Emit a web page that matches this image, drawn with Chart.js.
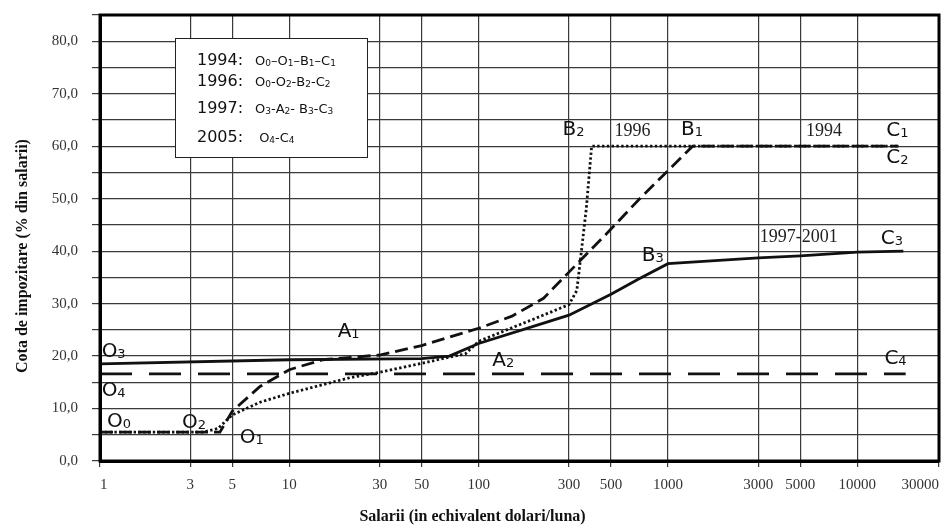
<!DOCTYPE html>
<html>
<head>
<meta charset="utf-8">
<script src="https://cdn.jsdelivr.net/npm/chart.js@4.4.1/dist/chart.umd.min.js"></script>
<style>
  html, body { margin: 0; padding: 0; background: #fff; }
  #wrap { width: 951px; height: 527px; }
</style>
</head>
<body>
<div id="wrap"><canvas id="chart" width="951" height="527"></canvas></div>
<script>
// salarii (dolari/luna) -> cota de impozitare (%)
const sal1994  = [1, 4.3, 5, 7, 10, 15, 30, 50, 100, 150, 220, 300, 500, 700, 1350, 16500];
const cota1994 = [5.5, 5.5, 9.5, 14.2, 17.4, 19.3, 20.2, 22, 25.3, 27.6, 31, 36, 44.2, 49.8, 60, 60];

const sal1996  = [1, 3.5, 4.2, 5, 7, 10, 21, 30, 50, 70, 85, 100, 150, 200, 300, 330, 345, 370, 395, 16500];
const cota1996 = [5.5, 5.5, 6.2, 8.8, 11.2, 12.9, 15.9, 16.9, 18.6, 19.8, 20.4, 22.8, 25.4, 27.2, 29.8, 32.5, 38.5, 48, 60, 60];

const sal1997  = [1, 10, 50, 70, 100, 200, 300, 500, 700, 1000, 3000, 5000, 10000, 17500];
const cota1997 = [18.5, 19.3, 19.5, 20, 22.4, 25.8, 27.8, 31.8, 34.7, 37.6, 38.7, 39.1, 39.8, 40];

const sal2005  = [1, 18000];
const cota2005 = [16.6, 16.6];

// ultima diviziune (30000) sta pe marginea din dreapta a graficului
const xMax = 27000;
const xTicks      = [1, 3, 5, 10, 30, 50, 100, 300, 500, 1000, 3000, 5000, 10000, xMax];
const xTickLabels = ['1', '3', '5', '10', '30', '50', '100', '300', '500', '1000', '3000', '5000', '10000', '30000'];

const xTitle = 'Salarii (in echivalent dolari/luna)';
const yTitle = 'Cota de impozitare (% din salarii)';

// etichete de puncte (litera_indice) si ani, in coordonate de date
const pointLabels = [
  ['O_0', 1.09, 6.5], ['O_2', 2.71, 6.3], ['O_1', 5.48, 3.4],
  ['O_3', 1.02, 19.9], ['O_4', 1.02, 12.3],
  ['A_1', 18, 23.6], ['A_2', 118, 18.2],
  ['B_2', 277, 62.1], ['B_1', 1170, 62.1], ['B_3', 726, 38.1],
  ['C_1', 14200, 61.9], ['C_2', 14200, 56.7], ['C_3', 13300, 41.4], ['C_4', 13900, 18.4]
];
const yearLabels = [['1996', 522, 61.9], ['1994', 5360, 61.9], ['1997-2001', 3050, 41.8]];

const legendRows = [
  ['1994:', 'O_0–O_1–B_1–C_1'],
  ['1996:', 'O_0-O_2-B_2-C_2'],
  ['1997:', 'O_3-A_2- B_3-C_3'],
  ['2005:', ' O_4-C_4']
];

const pts = (xs, ys) => xs.map((v, i) => ({ x: v, y: ys[i] }));

function drawSub(ctx, str, x, y, size, subSize) {
  for (let i = 0; i < str.length; i++) {
    let ch = str[i];
    if (ch === '_') {
      i++;
      ctx.font = subSize + 'px "DejaVu Sans"';
      ctx.fillText(str[i], x, y + 1);
      x += ctx.measureText(str[i]).width;
    } else {
      ctx.font = size + 'px "DejaVu Sans"';
      ctx.fillText(ch, x, y);
      x += ctx.measureText(ch).width;
    }
  }
}

const annotations = {
  id: 'annotations',
  afterDatasetsDraw(chart) {
    const { ctx, chartArea: a, scales: { x, y } } = chart;
    ctx.save();
    // rama
    ctx.lineWidth = 3;
    ctx.strokeStyle = '#000';
    ctx.strokeRect(a.left, a.top, a.right - a.left, a.bottom - a.top);

    ctx.fillStyle = '#111';
    ctx.textAlign = 'left';
    ctx.textBaseline = 'alphabetic';
    pointLabels.forEach(l => drawSub(ctx, l[0], x.getPixelForValue(l[1]), y.getPixelForValue(l[2]), 20, 13));

    ctx.font = '18px "Liberation Serif"';
    ctx.fillStyle = '#222';
    yearLabels.forEach(l => ctx.fillText(l[0], x.getPixelForValue(l[1]), y.getPixelForValue(l[2])));

    // caseta cu legenda
    const bx = a.left + 75, by = a.top + 23;
    ctx.fillStyle = '#fff';
    ctx.fillRect(bx, by, 192, 119);
    ctx.lineWidth = 1;
    ctx.strokeStyle = '#222';
    ctx.strokeRect(bx + 0.5, by + 0.5, 192, 119);
    ctx.fillStyle = '#111';
    const rowY = [27, 48, 75, 104];
    legendRows.forEach((r, i) => {
      ctx.font = '16px "DejaVu Sans"';
      ctx.fillText(r[0], bx + 22, by + rowY[i]);
      drawSub(ctx, r[1], bx + 80, by + rowY[i], 13, 9);
    });
    ctx.restore();
  },
  afterDraw(chart) {
    const { ctx, chartArea: a } = chart;
    ctx.save();
    ctx.fillStyle = '#111';
    ctx.font = 'bold 16px "Liberation Serif"';
    ctx.textAlign = 'center';
    ctx.textBaseline = 'middle';
    ctx.fillText(xTitle, (a.left + a.right) / 2 - 47, 517);
    ctx.translate(23, (a.top + a.bottom) / 2 + 18);
    ctx.rotate(-Math.PI / 2);
    ctx.fillText(yTitle, 0, 0);
    ctx.restore();
  }
};

Chart.defaults.font.family = '"Liberation Serif"';

const lineStyle = { borderColor: '#111', borderWidth: 2.8, pointRadius: 0, fill: false, tension: 0 };

new Chart(document.getElementById('chart'), {
  type: 'line',
  data: {
    datasets: [
      { ...lineStyle, label: '2005', data: pts(sal2005, cota2005), borderDash: [32, 17] },
      { ...lineStyle, label: '1997', data: pts(sal1997, cota1997) },
      { ...lineStyle, label: '1994', data: pts(sal1994, cota1994), borderDash: [13, 6] },
      { ...lineStyle, label: '1996', data: pts(sal1996, cota1996), borderDash: [2.4, 2.4] }
    ]
  },
  options: {
    responsive: false,
    devicePixelRatio: 1,
    animation: false,
    layout: { padding: { left: 0, right: 12, top: 15, bottom: 0 } },
    plugins: { legend: { display: false }, tooltip: { enabled: false } },
    scales: {
      x: {
        type: 'logarithmic',
        min: 1,
        max: xMax,
        afterBuildTicks: s => { s.ticks = xTicks.map(v => ({ value: v })); },
        afterFit: s => { s.height = 66; s.paddingLeft = 0; s.paddingRight = 0; },
        ticks: {
          autoSkip: false, maxRotation: 0, align: 'inner', padding: 9,
          color: '#333', font: { size: 15 },
          callback: (v, i) => xTickLabels[i]
        },
        grid: { color: '#3a3a3a', lineWidth: 1.2, tickLength: 6 },
        border: { color: '#000', width: 3 }
      },
      y: {
        min: 0,
        max: 85,
        afterFit: s => { s.width = 100; s.paddingTop = 0; s.paddingBottom = 0; },
        ticks: {
          stepSize: 5, padding: 14, color: '#333', font: { size: 15 },
          callback: v => v % 10 === 0 ? v.toFixed(1).replace('.', ',') : ''
        },
        grid: { color: '#3a3a3a', lineWidth: 1.2, tickLength: 8 },
        border: { color: '#000', width: 3 }
      }
    }
  },
  plugins: [annotations]
});
</script>
</body>
</html>
